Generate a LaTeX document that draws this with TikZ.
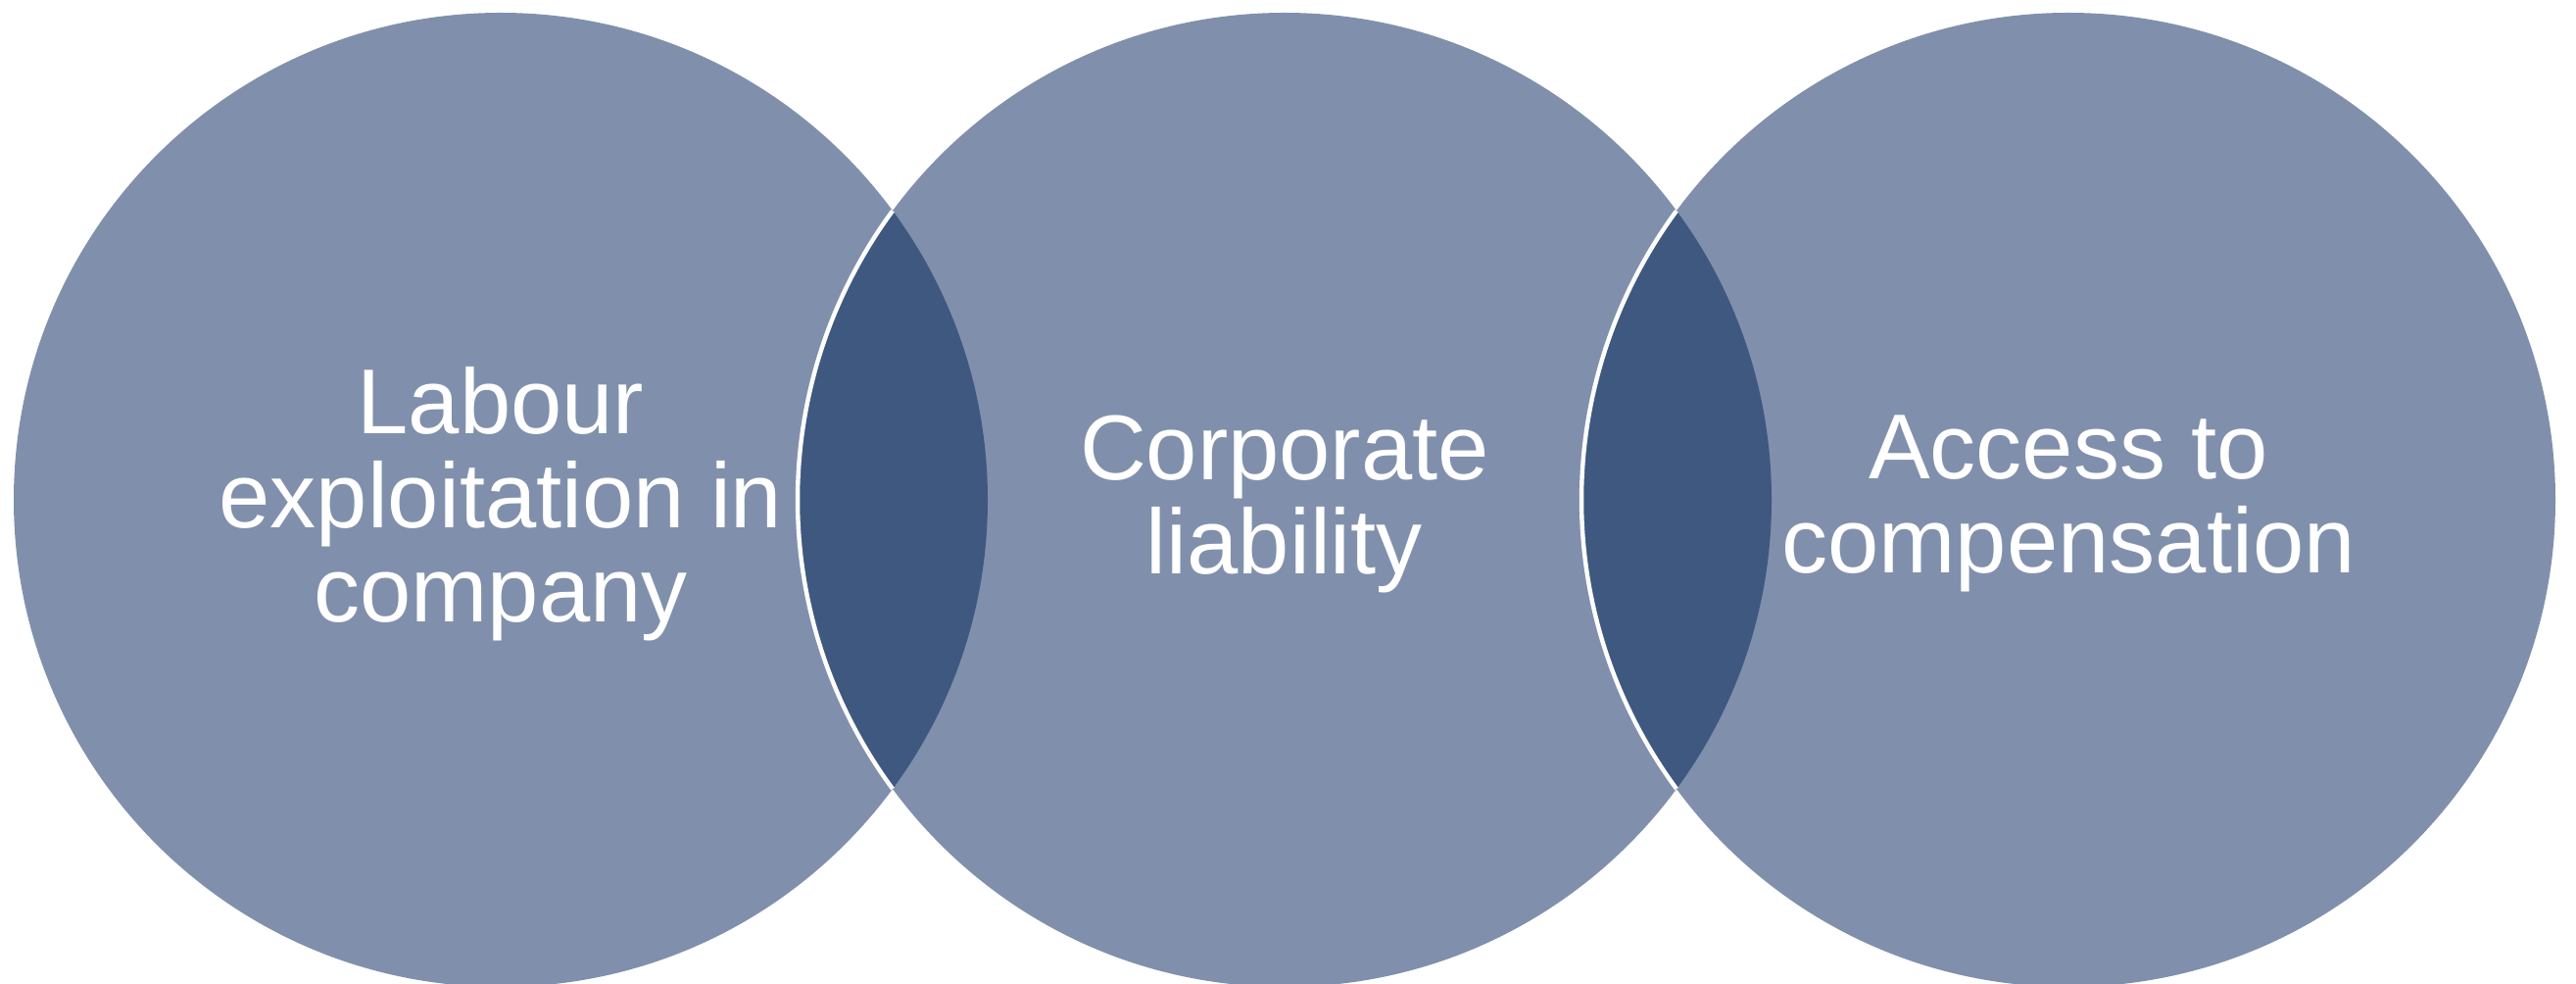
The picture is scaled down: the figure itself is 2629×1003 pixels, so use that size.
\documentclass[tikz,border=0pt]{standalone}
\usepackage{fontspec}
\setmainfont{Liberation Sans}
\definecolor{lightblue}{HTML}{8090AC}
\definecolor{darkblue}{HTML}{3F5880}
\tikzset{
  venn/.style={circle, fill=lightblue, minimum size=497pt, inner sep=0pt, outer sep=0pt},
  lens/.style={fill=darkblue},
  rim/.style={draw=white, line width=2.2pt},
  label/.style={text=white, align=center, inner sep=0pt, font=\fontsize{47pt}{48pt}\selectfont}
}
\begin{document}
\begin{tikzpicture}[x=0.5pt,y=0.5pt]
\useasboundingbox (0,0) rectangle (2629,1003);
% circles
\node[venn] (c1) at (511,493) {};
\node[venn] (c2) at (1311,493) {};
\node[venn] (c3) at (2111,493) {};
% overlaps
\begin{scope}
  \clip (c1.center) circle[radius=248.5pt];
  \fill[lens] (c2.center) circle[radius=248.5pt];
\end{scope}
\begin{scope}
  \clip (c2.center) circle[radius=248.5pt];
  \fill[lens] (c3.center) circle[radius=248.5pt];
\end{scope}
% white rims
\draw[rim] (c2.center) ++(143.6:248.5pt) arc[start angle=143.6, end angle=216.4, radius=248.5pt];
\draw[rim] (c3.center) ++(143.6:248.5pt) arc[start angle=143.6, end angle=216.4, radius=248.5pt];
% labels
\node[label] (t1) at (511,489) {Labour\\exploitation in\\company};
\node[label] (t2) at (1311,489) {Corporate\\liability};
\node[label] (t3) at (2111,489) {Access to\\compensation};
\end{tikzpicture}
\end{document}
